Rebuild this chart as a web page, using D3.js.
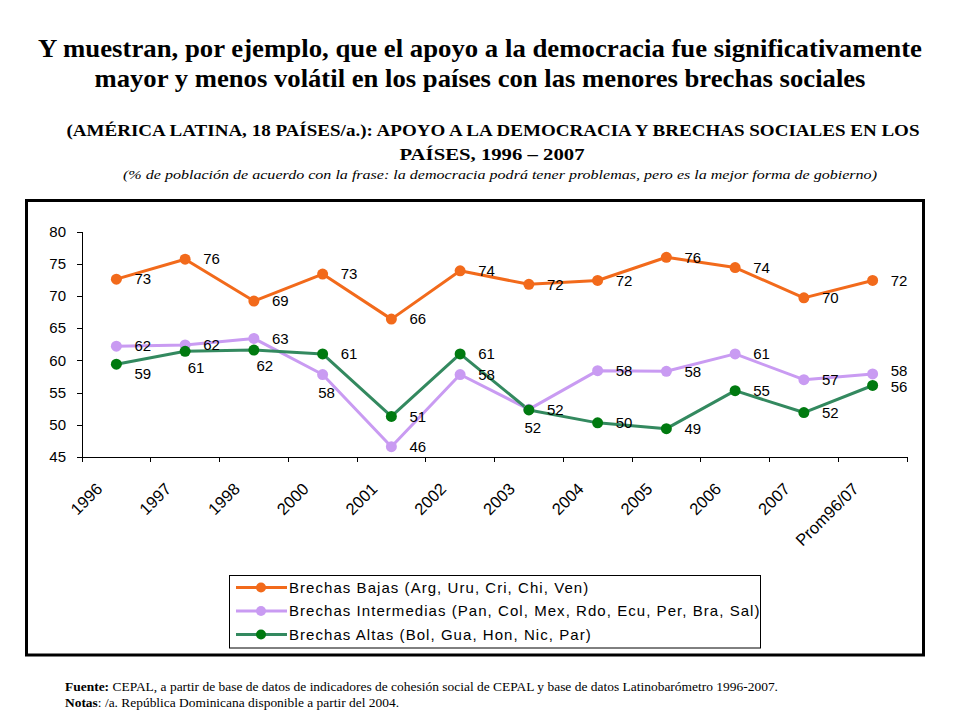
<!DOCTYPE html>
<html>
<head>
<meta charset="utf-8">
<script src="https://cdn.jsdelivr.net/npm/d3@7"></script>
<style>
  body { margin: 0; background: #fff; }
  svg { display: block; }
  .axis path, .axis line { stroke: #000; shape-rendering: crispEdges; }
  .axis text { font-family: "Liberation Sans", Arial, sans-serif; fill: #000; }
</style>
</head>
<body>
<svg id="chart"></svg>
<script>
// values (the labels show them rounded)
const categories = ["1996", "1997", "1998", "2000", "2001", "2002", "2003", "2004", "2005", "2006", "2007", "Prom96/07"];
const bajas      = [72.6, 75.7, 69.2, 73.4, 66.4, 73.9, 71.8, 72.4, 76.0, 74.4, 69.7, 72.4];
const intermedias = [62.2, 62.4, 63.4, 57.8, 46.6, 57.8, 52.4, 58.4, 58.3, 61.0, 57.0, 57.9];
const altas      = [59.4, 61.4, 61.6, 61.0, 51.3, 61.0, 52.3, 50.3, 49.4, 55.3, 51.9, 56.1];
const bajasLabels       = [73, 76, 69, 73, 66, 74, 72, 72, 76, 74, 70, 72];
const intermediasLabels = [62, 62, 63, 58, 46, 58, 52, 58, 58, 61, 57, 58];
const altasLabels       = [59, 61, 62, 61, 51, 61, 52, 50, 49, 55, 52, 56];
const yTicks = [45, 50, 55, 60, 65, 70, 75, 80];
const seriesNames = [
  "Brechas Bajas (Arg, Uru, Cri, Chi, Ven)",
  "Brechas Intermedias (Pan, Col, Mex, Rdo, Ecu, Per, Bra, Sal)",
  "Brechas Altas (Bol, Gua, Hon, Nic, Par)"
];

// where each label sits relative to its point
const bajasPlace       = ["r","r","r","r","r","r","r","r","r","r","r","r"];
const intermediasPlace = ["r","r","r","bc","r","r","r","r","r","r","r","ru"];
const altasPlace       = ["rb","b","b","r","r","r","bc","r","r","r","r","rd"];
const placeOffset = { r: [18, 0], ru: [18, -3], rd: [18, 1], rb: [18, 10], b: [11, 16], bc: [4, 18] };

const series = [
  { name: seriesNames[0], values: bajas, labels: bajasLabels, place: bajasPlace, line: "#F26A1B", dot: "#F26A1B" },
  { name: seriesNames[1], values: intermedias, labels: intermediasLabels, place: intermediasPlace, line: "#C99BF2", dot: "#C99BF2" },
  { name: seriesNames[2], values: altas, labels: altasLabels, place: altasPlace, line: "#33895F", dot: "#007A10" }
];

const width = 960, height = 720;
const svg = d3.select("#chart").attr("width", width).attr("height", height);

// titles
const serif = '"Liberation Serif", "Times New Roman", serif';
svg.append("text").attr("x", 480).attr("y", 57).attr("text-anchor", "middle")
  .attr("font-family", serif).attr("font-weight", "bold").attr("font-size", 25)
  .attr("textLength", 884).attr("lengthAdjust", "spacingAndGlyphs")
  .text("Y muestran, por ejemplo, que el apoyo a la democracia fue significativamente");
svg.append("text").attr("x", 480).attr("y", 87).attr("text-anchor", "middle")
  .attr("font-family", serif).attr("font-weight", "bold").attr("font-size", 25)
  .attr("textLength", 771).attr("lengthAdjust", "spacingAndGlyphs")
  .text("mayor y menos volátil en los países con las menores brechas sociales");

svg.append("text").attr("x", 493).attr("y", 136).attr("text-anchor", "middle")
  .attr("font-family", serif).attr("font-weight", "bold").attr("font-size", 17.5)
  .attr("textLength", 853).attr("lengthAdjust", "spacingAndGlyphs")
  .text("(AMÉRICA LATINA, 18 PAÍSES/a.): APOYO A LA DEMOCRACIA Y BRECHAS SOCIALES EN LOS");
svg.append("text").attr("x", 492).attr("y", 160).attr("text-anchor", "middle")
  .attr("font-family", serif).attr("font-weight", "bold").attr("font-size", 17.5)
  .attr("textLength", 185).attr("lengthAdjust", "spacingAndGlyphs")
  .text("PAÍSES, 1996 – 2007");
svg.append("text").attr("x", 500).attr("y", 179).attr("text-anchor", "middle")
  .attr("font-family", serif).attr("font-style", "italic").attr("font-size", 13)
  .attr("textLength", 754).attr("lengthAdjust", "spacingAndGlyphs")
  .text("(% de población  de acuerdo con la frase: la democracia podrá tener problemas, pero es la mejor forma de gobierno)");

// chart frame
svg.append("rect").attr("x", 26.5).attr("y", 200.5).attr("width", 897).attr("height", 454.5)
  .attr("fill", "none").attr("stroke", "#000").attr("stroke-width", 3);

// scales
const x = d3.scaleBand().domain(categories).range([82, 907]);
const y = d3.scaleLinear().domain([45, 80]).range([457, 231.5]);
const cx = d => x(d) + x.bandwidth() / 2;

// y axis
const yAxis = svg.append("g").attr("class", "axis").attr("transform", "translate(82,0)")
  .call(d3.axisLeft(y).tickValues(yTicks).tickSize(5).tickPadding(11).tickSizeOuter(0));
yAxis.selectAll("text").style("font-size", "15px");

// x axis: line, ticks at band edges, rotated labels
const xAxis = svg.append("g").attr("class", "axis").attr("transform", "translate(0,457)");
xAxis.call(d3.axisBottom(x).tickSize(0).tickFormat(""));
xAxis.select(".domain").attr("d", `M${x.range()[0]},0H${x.range()[1]}`);
xAxis.selectAll(".edge").data(categories.concat(["__end"])).join("line")
  .attr("class", "edge")
  .attr("x1", d => d === "__end" ? x.range()[1] : x(d))
  .attr("x2", d => d === "__end" ? x.range()[1] : x(d))
  .attr("y1", 0).attr("y2", 5);
xAxis.selectAll(".xlab").data(categories).join("text")
  .attr("class", "xlab")
  .attr("text-anchor", "end")
  .style("font-size", "16.5px")
  .attr("transform", d => `translate(${cx(d) - 13},${33}) rotate(-45)`)
  .text(d => d);

// lines, markers, labels
const line = d3.line().x((d, i) => cx(categories[i])).y(d => y(d));
const labelFont = '"Liberation Sans", Arial, sans-serif';

series.forEach(s => {
  svg.append("path").datum(s.values)
    .attr("fill", "none").attr("stroke", s.line).attr("stroke-width", 3)
    .attr("stroke-linejoin", "round").attr("d", line);
});
series.forEach(s => {
  svg.append("g").selectAll("circle").data(s.values).join("circle")
    .attr("cx", (d, i) => cx(categories[i])).attr("cy", d => y(d))
    .attr("r", 5.5).attr("fill", s.dot);
});
series.forEach(s => {
  svg.append("g").selectAll("text").data(s.values).join("text")
    .attr("x", (d, i) => cx(categories[i]) + placeOffset[s.place[i]][0])
    .attr("y", (d, i) => y(d) + placeOffset[s.place[i]][1])
    .attr("dy", "0.35em")
    .attr("text-anchor", (d, i) => s.place[i][0] === "b" ? "middle" : "start")
    .attr("font-family", labelFont).attr("font-size", 15).attr("fill", "#000")
    .text((d, i) => s.labels[i]);
});

// legend
const legend = svg.append("g");
legend.append("rect").attr("x", 229.5).attr("y", 575.5).attr("width", 531).attr("height", 72.5)
  .attr("fill", "#fff").attr("stroke", "#000").attr("stroke-width", 1);
const rows = legend.selectAll(".row").data(series).join("g")
  .attr("class", "row")
  .attr("transform", (d, i) => `translate(0,${587.5 + i * 23.5})`);
rows.append("line").attr("x1", 236).attr("x2", 287).attr("y1", 0).attr("y2", 0)
  .attr("stroke", d => d.line).attr("stroke-width", 3);
rows.append("circle").attr("cx", 261).attr("cy", 0).attr("r", 5).attr("fill", d => d.dot);
rows.append("text").attr("x", 289).attr("dy", "0.35em")
  .attr("font-family", labelFont).attr("font-size", 15).attr("letter-spacing", 1.05)
  .text(d => d.name);

// footnotes
const foot = svg.append("g").attr("font-family", serif).attr("font-size", 12.5);
const f1 = foot.append("text").attr("x", 65).attr("y", 691)
  .attr("textLength", 713).attr("lengthAdjust", "spacingAndGlyphs");
f1.append("tspan").attr("font-weight", "bold").text("Fuente:");
f1.append("tspan").text("  CEPAL,  a partir de base de datos de indicadores de cohesión social de CEPAL y base de datos Latinobarómetro 1996-2007.");
const f2 = foot.append("text").attr("x", 65).attr("y", 707)
  .attr("textLength", 334).attr("lengthAdjust", "spacingAndGlyphs");
f2.append("tspan").attr("font-weight", "bold").text("Notas");
f2.append("tspan").text(":  /a. República Dominicana disponible a partir del 2004.");
</script>
</body>
</html>
